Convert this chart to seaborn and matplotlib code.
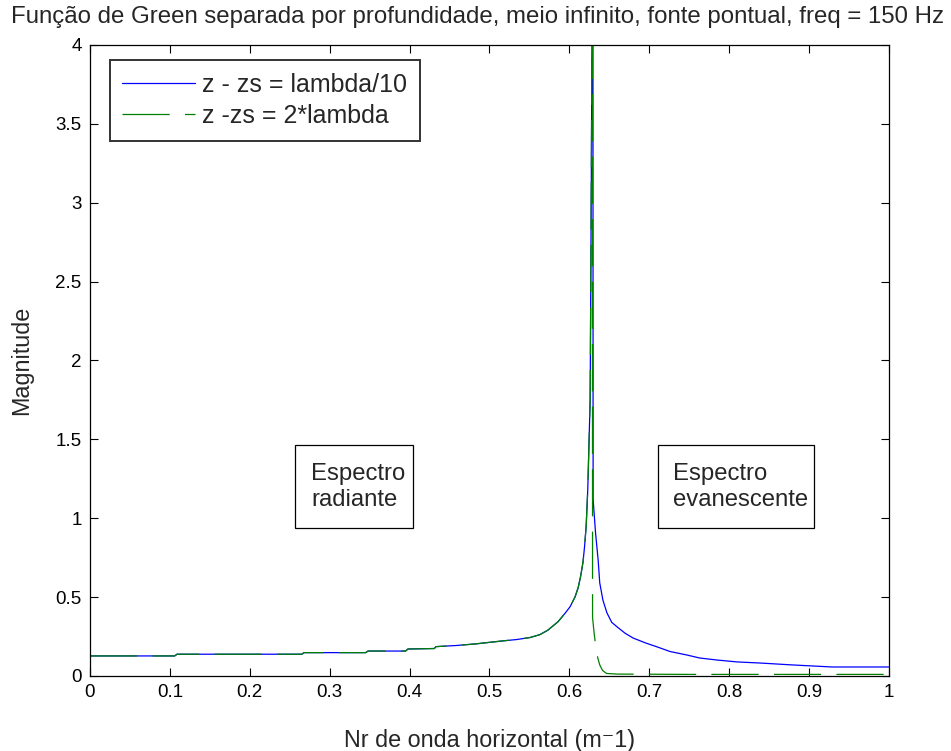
import numpy as np
import pandas as pd
import matplotlib
matplotlib.use("Agg")
import matplotlib.pyplot as plt
from matplotlib.patches import Rectangle
import seaborn as sns

# Radiating branch (k < k0), identical for both source depths
left_k = [0.0, 0.106, 0.109, 0.265, 0.268, 0.345, 0.348, 0.395, 0.398, 0.431,
          0.433, 0.458, 0.482, 0.498, 0.516, 0.534, 0.551, 0.563, 0.573, 0.586,
          0.595, 0.601, 0.607, 0.611, 0.614, 0.617, 0.619, 0.621, 0.623, 0.626,
          0.627, 0.6283]
left_mag = [0.127, 0.127, 0.138, 0.138, 0.148, 0.148, 0.158, 0.158, 0.171, 0.174,
            0.186, 0.193, 0.203, 0.212, 0.222, 0.231, 0.244, 0.262, 0.29, 0.345,
            0.40, 0.44, 0.50, 0.56, 0.63, 0.72, 0.82, 0.95, 1.18, 1.75,
            2.7, 4.05]

# Evanescent branch (k > k0), z - zs = lambda/10
blue_right_k = [0.6295, 0.6297, 0.6327, 0.636, 0.638, 0.642, 0.647, 0.653, 0.66,
                0.67, 0.68, 0.695, 0.71, 0.726, 0.747, 0.763, 0.785, 0.81,
                0.839, 0.879, 0.929, 1.0]
blue_right_mag = [4.05, 1.12, 0.91, 0.735, 0.59, 0.48, 0.40, 0.34, 0.31,
                  0.27, 0.24, 0.21, 0.184, 0.155, 0.133, 0.114, 0.101, 0.089,
                  0.082, 0.07, 0.057, 0.057]

# Evanescent branch (k > k0), z - zs = 2*lambda
green_right_k = [0.6288, 0.6290, 0.631, 0.633, 0.6355, 0.638, 0.6415, 0.6465,
                 0.66, 0.75, 1.0]
green_right_mag = [4.05, 0.37, 0.27, 0.19, 0.115, 0.07, 0.035, 0.016,
                   0.012, 0.01, 0.01]

xticks = [0, 0.1, 0.2, 0.3, 0.4, 0.5, 0.6, 0.7, 0.8, 0.9, 1.0]
xtick_labels = ["0", "0.1", "0.2", "0.3", "0.4", "0.5", "0.6", "0.7", "0.8", "0.9", "1"]
yticks = [0, 0.5, 1, 1.5, 2, 2.5, 3, 3.5, 4]
ytick_labels = ["0", "0.5", "1", "1.5", "2", "2.5", "3", "3.5", "4"]

sns.set_style("ticks")
plt.rcParams["font.family"] = ["Liberation Sans", "DejaVu Sans"]
plt.rcParams["lines.scale_dashes"] = False

blue = pd.DataFrame({"k": left_k + blue_right_k, "mag": left_mag + blue_right_mag})
green = pd.DataFrame({"k": left_k + green_right_k, "mag": left_mag + green_right_mag})

fig = plt.figure(figsize=(9.51, 7.51), dpi=100)
ax = fig.add_axes([0.0946, 0.0999, 0.8402, 0.8402])

sns.lineplot(data=blue, x="k", y="mag", ax=ax, color=(0, 0, 1), lw=0.9,
             sort=False, estimator=None, label="z - zs = lambda/10")
sns.lineplot(data=green, x="k", y="mag", ax=ax, color=(0, 0.5, 0), lw=0.9,
             sort=False, estimator=None, linestyle=(0, (34, 11)),
             label="z -zs = 2*lambda")

ax.set_xlim(0, 1)
ax.set_ylim(0, 4)
ax.set_xticks(xticks)
ax.set_xticklabels(xtick_labels)
ax.set_yticks(yticks)
ax.set_yticklabels(ytick_labels)
ax.tick_params(direction="in", top=True, right=True, length=6, width=0.8,
               labelsize=13.5, colors="black", pad=6)
for s in ax.spines.values():
    s.set_visible(True)
    s.set_color("black")
    s.set_linewidth(0.9)

ax.set_xlabel("Nr de onda horizontal (m\u207b1)", fontsize=16.8, labelpad=20)
ax.set_ylabel("Magnitude", fontsize=16.8, labelpad=16)
fig.text(0.5026, 0.977,
         "Função de Green separada por profundidade, meio infinito, fonte pontual, freq = 150 Hz",
         fontsize=17.3, ha="center", va="center")

leg = ax.legend(loc="upper left", bbox_to_anchor=(0.025, 0.976), fontsize=18,
                frameon=True, fancybox=False, handlelength=2.9, handletextpad=0.3,
                borderpad=0.5, labelspacing=0.3, borderaxespad=0)
leg.get_frame().set_edgecolor("black")
leg.get_frame().set_linewidth(1.4)

# Annotation frames for the two spectral regions (data coordinates)
frames = [((0.2566, 0.938), 0.1477, 0.526), ((0.7109, 0.938), 0.1952, 0.526)]
for (x0, y0), w, h in frames:
    ax.add_patch(Rectangle((x0, y0), w, h, fc="white", ec="black", lw=0.9, zorder=3))
ax.text(0.2766, 1.2, "Espectro\nradiante", fontsize=17.2, va="center", ha="left",
        linespacing=1.25, zorder=4)
ax.text(0.730, 1.2, "Espectro\nevanescente", fontsize=17.2, va="center", ha="left",
        linespacing=1.25, zorder=4)

fig.savefig("out.png", dpi=100)
